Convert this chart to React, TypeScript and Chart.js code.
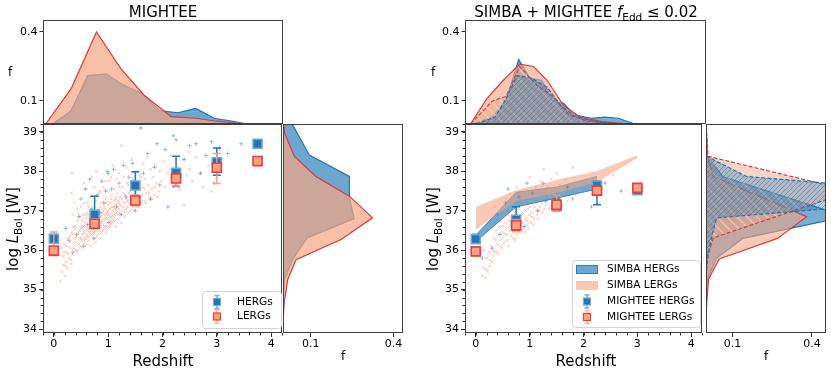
import React, { useEffect, useRef } from 'react';
import { Chart, registerables } from 'chart.js';

Chart.register(...registerables);

const FONT = "'DejaVu Sans', 'Liberation Sans', sans-serif";
Chart.defaults.font.family = FONT;
Chart.defaults.font.size = 11;
Chart.defaults.color = '#000';

// ---------------- tick labels ----------------
const X_TICKS = [0, 1, 2, 3, 4];
const Y_TICKS = [34, 35, 36, 37, 38, 39];
const F_TICKS = [0.1, 0.4];

// ---------------- MIGHTEE (left figure) ----------------
const BIN_Z = [0, 0.75, 1.5, 2.25, 3, 3.75];
const M_HERG_L = [36.29, 36.9, 37.64, 37.96, 38.23, 38.7];
const M_HERG_LO = [36.18, 36.55, 37.3, 37.62, 37.9, 38.7];
const M_HERG_HI = [36.4, 37.37, 37.99, 38.38, 38.59, 38.7];
const M_LERG_L = [35.99, 36.67, 37.26, 37.82, 38.09, 38.26];
const M_LERG_LO = [35.86, 36.55, 37.12, 37.6, 37.69, 38.26];
const M_LERG_HI = [36.46, 36.8, 37.4, 37.92, 38.45, 38.26];

const M_LERG_PTS = [
  [0.12, 35.22], [0.15, 35.45], [0.18, 35.62], [0.2, 35.35], [0.22, 35.7], [0.25, 35.55], [0.1, 35.9], [0.14, 36.05],
  [0.17, 35.85], [0.2, 36.15], [0.23, 35.95], [0.26, 36.3], [0.28, 35.8], [0.3, 36.05], [0.32, 35.65], [0.33, 36.45],
  [0.35, 35.9], [0.36, 36.2], [0.38, 36.6], [0.4, 36.0], [0.41, 36.35], [0.43, 35.95], [0.44, 36.75], [0.46, 36.15],
  [0.47, 36.5], [0.32, 37.45], [0.38, 37.2], [0.35, 36.9], [0.42, 37.05], [0.33, 37.95],
  [0.5, 36.3], [0.51, 36.6], [0.52, 36.05], [0.53, 36.9], [0.55, 36.45], [0.56, 37.2], [0.57, 36.25], [0.58, 36.7],
  [0.6, 36.4], [0.6, 37.55], [0.61, 36.95], [0.62, 36.15], [0.63, 36.55], [0.64, 37.1], [0.65, 36.35], [0.66, 36.8],
  [0.67, 37.35], [0.68, 36.5], [0.69, 36.1], [0.7, 36.65], [0.71, 37.0], [0.72, 36.3], [0.73, 36.85], [0.74, 37.6],
  [0.75, 36.45], [0.76, 36.95], [0.77, 36.2], [0.78, 37.25], [0.79, 36.6], [0.8, 36.75], [0.55, 37.7], [0.7, 37.85],
  [0.78, 38.0],
  [0.81, 36.4], [0.82, 37.05], [0.83, 36.55], [0.84, 37.45], [0.85, 36.85], [0.86, 36.3], [0.87, 36.7], [0.88, 37.2],
  [0.89, 36.95], [0.9, 36.5], [0.91, 37.6], [0.92, 36.8], [0.93, 37.1], [0.94, 36.6], [0.95, 37.3], [0.96, 36.45],
  [0.97, 36.9], [0.98, 37.5], [0.99, 36.7], [1.0, 37.0], [1.01, 36.55], [1.02, 37.75], [1.03, 36.85], [1.04, 37.2],
  [1.05, 36.65], [1.06, 37.4], [1.07, 36.95], [1.08, 38.15], [1.09, 36.75], [1.1, 37.1], [1.11, 37.55], [1.12, 36.9],
  [1.13, 37.3], [1.14, 36.6], [1.15, 37.8], [1.16, 37.0], [1.17, 37.45], [1.18, 36.8], [1.19, 37.2], [1.2, 37.95],
  [1.21, 36.95], [1.22, 37.35], [1.24, 36.7], [1.25, 38.65], [1.26, 37.6], [1.27, 37.1], [1.29, 37.85], [1.3, 36.85],
  [1.31, 37.4], [1.33, 37.05], [1.34, 38.1], [1.35, 37.25], [1.37, 37.65], [1.38, 36.95], [1.4, 37.5], [1.41, 37.15],
  [1.43, 38.3], [1.44, 37.35], [1.46, 37.8], [1.47, 37.0], [1.49, 37.55], [1.5, 37.2], [1.52, 38.0], [1.53, 37.4],
  [1.55, 37.7], [1.57, 37.1], [1.58, 37.9], [1.6, 37.35],
  [1.62, 37.6], [1.64, 38.2], [1.66, 37.25], [1.68, 37.8], [1.7, 37.45], [1.72, 38.35], [1.74, 37.65], [1.76, 37.3],
  [1.78, 38.05], [1.8, 37.55], [1.82, 37.85], [1.85, 37.4], [1.87, 38.15], [1.9, 37.7], [1.93, 37.5], [1.95, 38.0],
  [1.98, 37.75],
  [2.02, 38.25], [2.05, 37.6], [2.1, 37.95], [2.15, 38.4], [2.2, 37.7], [2.27, 38.1], [2.32, 37.55], [2.38, 38.3],
  [2.45, 37.9], [2.4, 37.15], [2.5, 38.05], [2.55, 37.75], [2.62, 38.35], [2.7, 37.95], [2.75, 37.6], [2.85, 38.15],
  [2.9, 37.5], [3.0, 37.85], [3.1, 38.3], [3.05, 38.55], [2.48, 38.5],
  [0.3, 36.2], [0.31, 35.75], [0.34, 36.4], [0.37, 36.05], [0.39, 36.3], [0.4, 36.55], [0.42, 36.2], [0.44, 36.0],
  [0.45, 36.45], [0.47, 36.3], [0.48, 36.85], [0.49, 36.1], [0.5, 36.55], [0.51, 36.25], [0.52, 36.75], [0.53, 36.4],
  [0.54, 36.6], [0.55, 36.15], [0.56, 36.5], [0.57, 36.9], [0.58, 36.3], [0.59, 36.6], [0.6, 36.8], [0.61, 36.35],
  [0.62, 36.5], [0.63, 36.9], [0.64, 36.25], [0.65, 36.6], [0.66, 36.45], [0.67, 36.7], [0.68, 36.95], [0.69, 36.4],
  [0.7, 36.8], [0.71, 36.55], [0.72, 36.7], [0.73, 36.45], [0.74, 36.9], [0.75, 36.6], [0.76, 36.75], [0.77, 36.5],
  [0.78, 36.85], [0.79, 36.35], [0.8, 37.0], [0.81, 36.65], [0.82, 36.8], [0.83, 36.5], [0.84, 36.95], [0.85, 36.6],
  [0.86, 37.1], [0.87, 36.85], [0.88, 36.45], [0.89, 36.75], [0.9, 37.0], [0.91, 36.65], [0.92, 36.9], [0.93, 36.55],
  [0.94, 37.05], [0.95, 36.8], [0.96, 37.2], [0.97, 36.6], [0.98, 36.95], [0.99, 36.8], [1.0, 37.15], [1.01, 36.9],
  [1.02, 36.6], [1.03, 37.05], [1.04, 36.75], [1.05, 37.3], [1.06, 36.85], [1.07, 37.1], [1.08, 36.7], [1.09, 37.0],
  [1.1, 36.85], [1.11, 37.25], [1.12, 37.05], [1.13, 36.75], [1.14, 37.15], [1.15, 36.95], [1.16, 37.35], [1.17, 37.1],
  [1.18, 36.9], [1.19, 37.25], [1.2, 37.05], [1.22, 37.15], [1.23, 36.9], [1.25, 37.3], [1.27, 37.0], [1.28, 37.45],
  [1.3, 37.2], [1.32, 36.95], [1.34, 37.3], [1.36, 37.1], [1.38, 37.45], [1.4, 37.25], [1.42, 37.0], [1.45, 37.4],
  [1.48, 37.2], [1.5, 37.5], [1.52, 37.1], [1.55, 37.35], [1.58, 37.55], [1.6, 37.2], [1.63, 37.4], [1.67, 37.55],
  [1.7, 37.2], [1.75, 37.45], [1.8, 37.3], [1.85, 37.6], [1.9, 37.35], [0.18, 35.95], [0.21, 35.6], [0.24, 36.1],
  [0.27, 35.9], [0.29, 36.35], [0.36, 36.6], [0.45, 36.95], [0.5, 37.1], [0.62, 37.2], [0.7, 37.4], [0.85, 37.5],
  [0.95, 37.75], [1.05, 37.85], [1.2, 37.6], [1.35, 37.7], [1.45, 37.95], [1.6, 37.85],
];

const M_HERG_PTS = [
  [0.22, 36.55], [0.28, 36.25], [0.35, 35.95], [0.42, 36.4], [0.46, 36.85], [0.5, 37.3], [0.55, 36.1], [0.58, 37.55],
  [0.62, 36.65], [0.66, 37.8], [0.7, 37.05], [0.74, 36.3], [0.8, 37.4], [0.85, 36.95], [0.88, 37.75], [0.92, 37.2],
  [0.98, 38.0], [1.02, 36.7], [1.06, 37.55], [1.1, 38.05], [1.15, 37.1], [1.2, 37.7], [1.24, 36.9], [1.28, 38.15],
  [1.33, 37.35], [1.38, 37.85], [1.45, 38.2], [1.5, 37.0], [1.55, 37.6], [1.6, 39.1], [1.65, 37.95], [1.72, 38.45],
  [1.78, 37.3], [1.85, 38.1], [1.9, 38.7], [1.95, 37.65], [2.05, 38.55], [2.1, 37.1], [2.2, 38.9], [2.25, 38.8],
  [2.3, 37.85], [2.4, 38.3], [2.5, 38.65], [2.62, 38.7], [2.7, 37.95], [2.8, 38.4], [2.9, 38.75], [2.95, 37.7],
  [3.05, 38.6], [3.2, 38.45], [3.45, 38.7], [1.0, 37.95], [0.95, 37.5],
];

// marginal distributions (left figure)
const TOP_HERG_Z = [-0.02, 0.31, 0.62, 0.96, 1.27, 1.63, 1.94, 2.27, 2.6, 2.94, 3.28, 3.55, 4.3];
const TOP_HERG_F = [0, 0.057, 0.21, 0.217, 0.17, 0.129, 0.058, 0.049, 0.068, 0.025, 0.012, 0, 0];
const TOP_LERG_Z = [-0.15, 0.32, 0.78, 1.23, 1.65, 2.15, 2.6, 2.95, 3.5, 4.3];
const TOP_LERG_F = [0, 0.155, 0.4, 0.24, 0.126, 0.032, 0.025, 0.013, 0, 0];

const SIDE_HERG_L = [39.5, 38.41, 37.87, 37.34, 36.8, 36.31, 35.76, 35.25, 34.7];
const SIDE_HERG_F = [0.01, 0.095, 0.24, 0.24, 0.257, 0.087, 0.035, 0.005, 0];
const SIDE_LERG_L = [39.4, 38.98, 38.38, 37.87, 37.37, 36.82, 36.27, 35.76, 35.25, 34.7, 34.2];
const SIDE_LERG_F = [0, 0.005, 0.041, 0.119, 0.24, 0.324, 0.21, 0.047, 0.017, 0.005, 0];

// ---------------- SIMBA + MIGHTEE (right figure) ----------------
const S_BIN_Z = [0, 0.75, 1.5, 2.25, 3];
const S_HERG_L = [36.28, 36.77, 37.12, 37.64, 37.52];
const S_HERG_LO = [36.18, 36.5, 37.0, 37.15, 37.45];
const S_HERG_HI = [36.4, 37.1, 37.3, 37.75, 37.6];
const S_LERG_L = [35.97, 36.63, 37.15, 37.51, 37.58];
const S_LERG_LO = [35.86, 36.47, 36.98, 37.42, 37.5];
const S_LERG_HI = [36.08, 36.78, 37.4, 37.6, 37.66];

const SIMBA_LERG_Z = [0, 0.75, 1.5, 2.25, 3];
const SIMBA_LERG_TOP = [37.1, 37.52, 37.78, 38.01, 38.41];
const SIMBA_LERG_BOT = [36.52, 37.25, 37.45, 37.72, 38.34];
const SIMBA_HERG_Z = [0, 0.75, 1.5, 2.25];
const SIMBA_HERG_TOP = [36.38, 37.47, 37.6, 37.87];
const SIMBA_HERG_BOT = [36.22, 37.1, 37.32, 37.55];

const S_LERG_PTS = [
  [0.12, 35.35], [0.15, 35.55], [0.18, 35.3], [0.2, 35.8], [0.22, 35.45], [0.25, 35.95], [0.27, 35.75], [0.3, 36.1],
  [0.32, 35.85], [0.34, 36.3], [0.36, 35.95], [0.38, 36.5], [0.4, 36.15], [0.42, 35.9], [0.44, 36.6], [0.45, 36.25],
  [0.47, 36.8], [0.48, 36.05], [0.5, 36.45], [0.52, 37.0], [0.53, 36.2], [0.55, 36.7], [0.56, 37.3], [0.58, 36.4],
  [0.6, 36.9], [0.61, 36.1], [0.63, 36.6], [0.64, 37.45], [0.66, 36.35], [0.67, 36.8], [0.69, 37.15], [0.7, 36.5],
  [0.72, 36.95], [0.73, 36.25], [0.75, 36.7], [0.76, 37.6], [0.78, 36.4], [0.79, 37.05], [0.81, 36.6], [0.82, 36.85],
  [0.84, 37.3], [0.85, 36.5], [0.87, 36.95], [0.88, 36.7], [0.9, 37.2], [0.91, 36.45], [0.93, 36.8], [0.94, 37.5],
  [0.96, 36.65], [0.97, 37.05], [0.99, 36.9], [1.0, 37.85], [1.02, 36.7], [1.03, 37.25], [1.05, 36.95], [1.07, 37.4],
  [1.08, 36.8], [1.1, 37.1], [1.12, 37.6], [1.14, 36.9], [1.16, 37.3], [1.18, 37.0], [1.2, 37.75], [1.22, 37.2],
  [1.24, 36.95], [1.26, 38.05], [1.28, 37.45], [1.3, 37.15], [1.33, 37.6], [1.35, 37.05], [1.38, 37.35], [1.4, 37.8],
  [1.43, 37.2], [1.45, 37.5], [1.48, 37.0], [1.5, 37.95], [1.53, 37.3], [1.56, 37.65], [1.6, 37.15], [1.63, 37.45],
  [1.67, 37.8], [1.7, 37.25], [1.75, 37.55], [1.8, 38.1], [1.85, 37.4], [0.35, 37.1], [0.25, 36.6], [0.15, 36.0],
  [2.55, 37.9],
  [0.3, 35.7], [0.33, 36.0], [0.37, 36.25], [0.4, 35.95], [0.43, 36.4], [0.46, 36.1], [0.49, 36.3], [0.51, 36.6],
  [0.54, 36.4], [0.57, 36.55], [0.59, 36.25], [0.62, 36.75], [0.65, 36.5], [0.68, 36.65], [0.71, 36.3], [0.74, 36.85],
  [0.77, 36.55], [0.8, 36.75], [0.83, 36.45], [0.86, 36.9], [0.89, 36.6], [0.92, 37.0], [0.95, 36.75], [0.98, 36.55],
  [1.01, 37.1], [1.04, 36.85], [1.07, 36.65], [1.1, 37.2], [1.13, 37.0], [1.16, 36.8], [1.19, 37.1], [1.23, 37.35],
  [1.27, 37.05], [1.31, 37.25], [1.36, 37.4], [1.41, 37.1], [1.46, 37.3], [1.52, 37.15], [1.58, 37.35], [0.26, 35.6],
  [0.2, 35.5], [0.55, 36.9], [0.7, 37.05], [0.9, 37.3], [1.0, 37.4], [1.15, 37.5], [1.3, 37.5],
];
const S_HERG_PTS = [
  [0.12, 35.8], [0.3, 36.05], [0.45, 36.4], [0.55, 37.2], [0.6, 37.55], [0.72, 36.85], [0.8, 37.35], [0.9, 36.6],
  [0.95, 37.7], [1.05, 37.45], [1.15, 37.0], [1.3, 37.25], [1.5, 37.4], [1.7, 37.6], [1.8, 37.3], [2.15, 37.1],
  [2.4, 37.7], [2.7, 37.5], [0.4, 36.9], [1.25, 37.7],
];

// top marginal (right figure): f vs redshift
const RT_MHERG_Z = [-0.05, 0.3, 0.55, 0.78, 0.98, 1.2, 1.4, 1.6, 1.8, 2.1, 2.35, 2.6, 2.9];
const RT_MHERG_F = [0, 0.03, 0.1, 0.28, 0.2, 0.19, 0.1, 0.09, 0.04, 0.025, 0.03, 0.025, 0];
const RT_MLERG_Z = [-0.1, 0.2, 0.5, 0.8, 1.05, 1.3, 1.6, 1.9, 2.3, 2.8];
const RT_MLERG_F = [0, 0.11, 0.19, 0.26, 0.25, 0.19, 0.08, 0.03, 0.01, 0];
const RT_SHERG_Z = [0, 0.35, 0.55, 0.75, 1.0, 1.3, 1.55, 1.8, 2.2, 2.6];
const RT_SHERG_F = [0, 0.03, 0.11, 0.21, 0.2, 0.16, 0.08, 0.035, 0.01, 0];
const RT_SLERG_Z = [-0.1, 0.3, 0.55, 0.8, 1.1, 1.4, 1.7, 2.0, 2.5];
const RT_SLERG_F = [0, 0.1, 0.12, 0.25, 0.17, 0.12, 0.04, 0.015, 0];

// side marginal (right figure): f vs log L
const RR_MHERG_L = [39.3, 38.4, 37.87, 37.37, 36.85, 36.3, 35.8, 35.25, 34.7];
const RR_MHERG_F = [0, 0.005, 0.063, 0.29, 0.53, 0.14, 0.04, 0.005, 0];
const RR_MLERG_L = [39.2, 38.4, 37.87, 37.37, 36.85, 36.3, 35.78, 35.27, 34.7, 34.2];
const RR_MLERG_F = [0, 0.005, 0.027, 0.2, 0.38, 0.27, 0.05, 0.01, 0.003, 0];
const RR_SHERG_L = [39.3, 38.38, 37.87, 37.45, 37.1, 36.82, 36.3, 35.8, 35.3];
const RR_SHERG_F = [0, 0.002, 0.153, 0.9, 0.55, 0.04, 0.02, 0.005, 0];
const RR_SLERG_L = [39.3, 38.9, 38.38, 37.5, 36.31, 35.9, 35.4];
const RR_SLERG_F = [0, 0.003, 0.008, 0.55, 0.027, 0.008, 0];

// ---------------- styling ----------------
const BLUE = '#1f77b4';
const RED = '#e0383e';
const SALMON = '#f4a582';
const BLUE_FILL = 'rgba(31,119,180,0.65)';
const SALMON_FILL = 'rgba(244,165,130,0.7)';

const xy = (xs: number[], ys: number[]) => xs.map((x, i) => ({ x, y: ys[i] }));
const fy = (ls: number[], fs: number[]) => ls.map((l, i) => ({ x: fs[i], y: l }));
const pts = (a: number[][]) => a.map((p) => ({ x: p[0], y: p[1] }));

function hatch(base: string, line: string, dir: number, size: number, lw: number): any {
  const c = document.createElement('canvas');
  c.width = size;
  c.height = size;
  const g = c.getContext('2d');
  if (!g) return base;
  g.fillStyle = base;
  g.fillRect(0, 0, size, size);
  g.strokeStyle = line;
  g.lineWidth = lw;
  g.beginPath();
  for (const o of [-size, 0, size]) {
    if (dir > 0) {
      g.moveTo(o, size);
      g.lineTo(o + size, 0);
    } else {
      g.moveTo(o, 0);
      g.lineTo(o + size, size);
    }
  }
  g.stroke();
  return g.createPattern(c, 'repeat') || base;
}

// ---------------- plugins ----------------
const errorBarPlugin = {
  id: 'errbars',
  beforeDatasetDraw(chart: any, args: any) {
    const ds: any = chart.data.datasets[args.index];
    if (!ds || !ds.errLo) return;
    const xs = chart.scales.x;
    const ys = chart.scales.y;
    const ctx = chart.ctx;
    ctx.save();
    ctx.strokeStyle = ds.errColor;
    ctx.lineWidth = 1.5;
    ds.data.forEach((p: any, i: number) => {
      const lo = ds.errLo[i];
      const hi = ds.errHi[i];
      if (hi - lo < 1e-6) return;
      const x = xs.getPixelForValue(p.x);
      const y1 = ys.getPixelForValue(lo);
      const y2 = ys.getPixelForValue(hi);
      ctx.beginPath();
      ctx.moveTo(x, y1);
      ctx.lineTo(x, y2);
      ctx.moveTo(x - 4, y1);
      ctx.lineTo(x + 4, y1);
      ctx.moveTo(x - 4, y2);
      ctx.lineTo(x + 4, y2);
      ctx.stroke();
    });
    ctx.restore();
  },
};
Chart.register(errorBarPlugin as any);

function framePlugin() {
  return {
    id: 'frame',
    afterDatasetsDraw(chart: any) {
      const { left, top, right, bottom } = chart.chartArea;
      const ctx = chart.ctx;
      ctx.save();
      ctx.strokeStyle = '#404040';
      ctx.lineWidth = 1;
      ctx.strokeRect(Math.round(left) + 0.5, Math.round(top) + 0.5, Math.round(right - left) - 1, Math.round(bottom - top) - 1);
      ctx.restore();
    },
  };
}

function minorTicksPlugin(xStep: number, yStep: number) {
  return {
    id: 'minorTicks',
    afterDraw(chart: any) {
      const ctx = chart.ctx;
      const { left, bottom } = chart.chartArea;
      ctx.save();
      ctx.strokeStyle = '#333';
      ctx.lineWidth = 1;
      ctx.beginPath();
      if (xStep) {
        const s = chart.scales.x;
        for (let k = Math.ceil(s.min / xStep); k * xStep <= s.max + 1e-9; k++) {
          const p = Math.round(s.getPixelForValue(k * xStep)) + 0.5;
          ctx.moveTo(p, bottom);
          ctx.lineTo(p, bottom + 2.5);
        }
      }
      if (yStep) {
        const s = chart.scales.y;
        for (let k = Math.ceil(s.min / yStep); k * yStep <= s.max + 1e-9; k++) {
          const p = Math.round(s.getPixelForValue(k * yStep)) + 0.5;
          ctx.moveTo(left, p);
          ctx.lineTo(left - 2.5, p);
        }
      }
      ctx.stroke();
      ctx.restore();
    },
  };
}

type Part = { t: string; it?: boolean; sub?: boolean };
type TextItem = { x: number; y: number; size: number; parts: Part[]; rot?: boolean };

function textPlugin(items: TextItem[], ox: number, oy: number) {
  return {
    id: 'richText',
    afterDraw(chart: any) {
      const ctx = chart.ctx;
      for (const it of items) {
        ctx.save();
        ctx.translate(it.x - ox, it.y - oy);
        if (it.rot) ctx.rotate(-Math.PI / 2);
        ctx.fillStyle = '#000';
        ctx.textBaseline = 'alphabetic';
        ctx.textAlign = 'left';
        const fontOf = (p: Part) => `${p.it ? 'italic ' : ''}${p.sub ? it.size * 0.7 : it.size}px ${FONT}`;
        let w = 0;
        for (const p of it.parts) {
          ctx.font = fontOf(p);
          w += ctx.measureText(p.t).width;
        }
        let x = -w / 2;
        for (const p of it.parts) {
          ctx.font = fontOf(p);
          ctx.fillText(p.t, x, p.sub ? it.size * 0.28 : 0);
          x += ctx.measureText(p.t).width;
        }
        ctx.restore();
      }
    },
  };
}

type LegItem = { kind: 'patch' | 'sq'; fill: string; edge: string; err?: string; label: string; y: number };

function legendPlugin(box: { x: number; y: number; w: number; h: number }, mx: number, tx: number, items: LegItem[], ox: number, oy: number) {
  return {
    id: 'customLegend',
    afterDraw(chart: any) {
      const ctx = chart.ctx;
      ctx.save();
      ctx.translate(-ox, -oy);
      ctx.beginPath();
      if ((ctx as any).roundRect) (ctx as any).roundRect(box.x + 0.5, box.y + 0.5, box.w, box.h, 3);
      else ctx.rect(box.x + 0.5, box.y + 0.5, box.w, box.h);
      ctx.fillStyle = 'rgba(255,255,255,0.85)';
      ctx.fill();
      ctx.strokeStyle = '#d4d4d4';
      ctx.lineWidth = 1;
      ctx.stroke();
      for (const it of items) {
        if (it.kind === 'patch') {
          ctx.fillStyle = it.fill;
          ctx.fillRect(mx - 11, it.y - 4.5, 22, 9);
          ctx.strokeStyle = it.edge;
          ctx.strokeRect(mx - 10.5, it.y - 4, 21, 8);
        } else {
          ctx.strokeStyle = it.err || it.edge;
          ctx.lineWidth = 1.5;
          ctx.beginPath();
          ctx.moveTo(mx, it.y - 6.5);
          ctx.lineTo(mx, it.y + 6.5);
          ctx.moveTo(mx - 2.5, it.y - 6.5);
          ctx.lineTo(mx + 2.5, it.y - 6.5);
          ctx.moveTo(mx - 2.5, it.y + 6.5);
          ctx.lineTo(mx + 2.5, it.y + 6.5);
          ctx.stroke();
          ctx.fillStyle = it.fill;
          ctx.fillRect(mx - 3.5, it.y - 3.5, 7, 7);
          ctx.strokeStyle = it.edge;
          ctx.lineWidth = 1.2;
          ctx.strokeRect(mx - 3.5, it.y - 3.5, 7, 7);
        }
        ctx.fillStyle = '#000';
        ctx.font = `10.6px ${FONT}`;
        ctx.textBaseline = 'middle';
        ctx.textAlign = 'left';
        ctx.fillText(it.label, tx, it.y);
      }
      ctx.restore();
    },
  };
}

// ---------------- scales ----------------
const tickGrid = (len: number) => ({ drawOnChartArea: false, drawTicks: true, tickLength: len, color: '#333', tickWidth: 1 });

function zScale(show: boolean, h = 40) {
  return {
    type: 'linear',
    display: show,
    min: -0.2,
    max: 4.2,
    afterBuildTicks: (s: any) => { s.ticks = X_TICKS.map((v) => ({ value: v })); },
    afterFit: (s: any) => { s.height = h; s.paddingLeft = 0; s.paddingRight = 0; },
    ticks: { font: { size: 11 }, color: '#000', padding: 1, maxRotation: 0, autoSkip: false, callback: (v: any) => String(v) },
    grid: tickGrid(4),
    border: { display: false },
  };
}
function lScale(show: boolean, w: number) {
  return {
    type: 'linear',
    display: show,
    min: 33.9,
    max: 39.2,
    afterBuildTicks: (s: any) => { s.ticks = Y_TICKS.map((v) => ({ value: v })); },
    afterFit: (s: any) => { s.width = w; s.paddingTop = 0; s.paddingBottom = 0; },
    ticks: { font: { size: 11 }, color: '#000', padding: 2, autoSkip: false, callback: (v: any) => String(v) },
    grid: tickGrid(4),
    border: { display: false },
  };
}
function fScaleY(w: number) {
  return {
    type: 'linear',
    min: 0,
    max: 0.452,
    afterBuildTicks: (s: any) => { s.ticks = F_TICKS.map((v) => ({ value: v })); },
    afterFit: (s: any) => { s.width = w; s.paddingTop = 0; s.paddingBottom = 0; },
    ticks: { font: { size: 11 }, color: '#000', padding: 2, autoSkip: false, callback: (v: any) => Number(v).toFixed(1) },
    grid: tickGrid(3.5),
    border: { display: false },
  };
}
function fScaleX(max: number) {
  return {
    type: 'linear',
    min: 0,
    max,
    afterBuildTicks: (s: any) => { s.ticks = F_TICKS.map((v) => ({ value: v })); },
    afterFit: (s: any) => { s.height = 40; s.paddingLeft = 0; s.paddingRight = 0; },
    ticks: { font: { size: 11 }, color: '#000', padding: 1, maxRotation: 0, autoSkip: false, callback: (v: any) => Number(v).toFixed(1) },
    grid: tickGrid(4),
    border: { display: false },
  };
}

function baseOptions(pad: any, scales: any, extra: any = {}) {
  return {
    responsive: false,
    animation: false,
    events: [],
    layout: { padding: pad },
    plugins: { legend: { display: false }, tooltip: { enabled: false }, title: { display: false } },
    scales,
    ...extra,
  };
}

const lineDs = (data: any, border: string, fill: any, order: number, dash: number[] = []) => ({
  data,
  borderColor: border,
  borderWidth: 1.2,
  borderDash: dash,
  backgroundColor: fill,
  fill: 'origin',
  pointRadius: 0,
  tension: 0,
  order,
});

function binDatasets(z: number[], hL: number[], hLo: number[], hHi: number[], lL: number[], lLo: number[], lHi: number[]) {
  return [
    {
      data: xy(z, lL), showLine: false, pointStyle: 'rect', pointRadius: 6.4,
      backgroundColor: SALMON, borderColor: '#ee3b3f', borderWidth: 1.6, order: 0,
      errLo: lLo, errHi: lHi, errColor: 'rgba(242,160,128,0.95)',
    },
    {
      data: xy(z, hL), showLine: false, pointStyle: 'rect', pointRadius: 6.4,
      backgroundColor: BLUE, borderColor: 'rgba(110,170,215,0.95)', borderWidth: 1.6, order: 1,
      errLo: hLo, errHi: hHi, errColor: BLUE,
    },
  ];
}
function scatterDatasets(herg: number[][], lerg: number[][]) {
  return [
    { data: pts(herg), showLine: false, pointStyle: 'cross', pointRadius: 2.1, borderWidth: 1, borderColor: 'rgba(31,119,180,0.42)', backgroundColor: 'transparent', order: 2 },
    { data: pts(lerg), showLine: false, pointStyle: 'crossRot', pointRadius: 2.2, borderWidth: 1, borderColor: 'rgba(240,145,110,0.4)', backgroundColor: 'transparent', order: 3 },
  ];
}

// ---------------- chart makers ----------------
function makeTL(ox: number, oy: number) {
  return {
    type: 'line',
    data: {
      datasets: [
        lineDs(xy(TOP_HERG_Z, TOP_HERG_F), BLUE, BLUE_FILL, 1),
        lineDs(xy(TOP_LERG_Z, TOP_LERG_F), RED, SALMON_FILL, 0),
      ],
    },
    options: baseOptions({ left: 0, top: 20, right: 7, bottom: 6 }, { x: zScale(false, 0), y: fScaleY(43) }),
    plugins: [framePlugin(), textPlugin([
      { x: 163, y: 17, size: 15, parts: [{ t: 'MIGHTEE' }] },
      { x: 10, y: 76, size: 12, parts: [{ t: 'f' }] },
    ], ox, oy)],
  };
}

function makeLM(ox: number, oy: number) {
  return {
    type: 'line',
    data: {
      datasets: [
        ...binDatasets(BIN_Z, M_HERG_L, M_HERG_LO, M_HERG_HI, M_LERG_L, M_LERG_LO, M_LERG_HI),
        ...scatterDatasets(M_HERG_PTS, M_LERG_PTS),
      ],
    },
    options: baseOptions({ left: 0, top: 14, right: 7, bottom: 0 }, { x: zScale(true), y: lScale(true, 43) }),
    plugins: [
      framePlugin(),
      minorTicksPlugin(0.2, 0.2),
      textPlugin([
        { x: 163, y: 366, size: 15, parts: [{ t: 'Redshift' }] },
        { x: 18, y: 229, size: 15, rot: true, parts: [{ t: 'log ' }, { t: 'L', it: true }, { t: 'Bol', sub: true }, { t: ' [W]' }] },
      ], ox, oy),
      legendPlugin({ x: 202, y: 291, w: 79, h: 37 }, 217, 237, [
        { kind: 'sq', fill: BLUE, edge: 'rgba(110,170,215,0.95)', err: 'rgba(110,170,215,0.95)', label: 'HERGs', y: 302 },
        { kind: 'sq', fill: SALMON, edge: '#ee3b3f', err: 'rgba(242,160,128,0.8)', label: 'LERGs', y: 316.5 },
      ], ox, oy),
    ],
  };
}

function makeLR(ox: number, oy: number) {
  return {
    type: 'line',
    data: {
      datasets: [
        lineDs(fy(SIDE_HERG_L, SIDE_HERG_F), BLUE, BLUE_FILL, 1),
        lineDs(fy(SIDE_LERG_L, SIDE_LERG_F), RED, SALMON_FILL, 0),
      ],
    },
    options: baseOptions({ left: 7, top: 14, right: 17, bottom: 0 }, { x: fScaleX(0.434), y: lScale(false, 0) }, { indexAxis: 'y' }),
    plugins: [framePlugin(), textPlugin([{ x: 343, y: 360, size: 12, parts: [{ t: 'f' }] }], ox, oy)],
  };
}

function hatches() {
  return {
    hB: hatch('rgba(31,119,180,0.3)', 'rgba(31,119,180,0.75)', 1, 5, 0.7),
    hS: hatch('rgba(230,160,135,0.45)', 'rgba(255,225,210,0.55)', -1, 10, 1.3),
  };
}

function makeRT(ox: number, oy: number) {
  const { hB, hS } = hatches();
  return {
    type: 'line',
    data: {
      datasets: [
        lineDs(xy(RT_MHERG_Z, RT_MHERG_F), BLUE, 'rgba(31,119,180,0.6)', 3),
        lineDs(xy(RT_MLERG_Z, RT_MLERG_F), RED, 'rgba(244,165,130,0.6)', 2),
        lineDs(xy(RT_SHERG_Z, RT_SHERG_F), BLUE, hB, 0, [4, 2]),
        lineDs(xy(RT_SLERG_Z, RT_SLERG_F), RED, hS, 1, [4, 2]),
      ],
    },
    options: baseOptions({ left: 0, top: 20, right: 4, bottom: 6 }, { x: zScale(false, 0), y: fScaleY(45) }),
    plugins: [framePlugin(), textPlugin([
      { x: 586, y: 17, size: 15, parts: [{ t: 'SIMBA + MIGHTEE ' }, { t: 'f', it: true }, { t: 'Edd', sub: true }, { t: ' \u2264 0.02' }] },
      { x: 433, y: 76, size: 12, parts: [{ t: 'f' }] },
    ], ox, oy)],
  };
}

function makeRM(ox: number, oy: number) {
  return {
    type: 'line',
    data: {
      datasets: [
        ...binDatasets(S_BIN_Z, S_HERG_L, S_HERG_LO, S_HERG_HI, S_LERG_L, S_LERG_LO, S_LERG_HI),
        ...scatterDatasets(S_HERG_PTS, S_LERG_PTS),
        { data: xy(SIMBA_LERG_Z, SIMBA_LERG_TOP), fill: '+1', backgroundColor: 'rgba(244,165,130,0.6)', borderWidth: 0, borderColor: 'rgba(0,0,0,0)', pointRadius: 0, order: 4 },
        { data: xy(SIMBA_LERG_Z, SIMBA_LERG_BOT), fill: false, borderWidth: 0, borderColor: 'rgba(0,0,0,0)', pointRadius: 0, order: 4 },
        { data: xy(SIMBA_HERG_Z, SIMBA_HERG_TOP), fill: '+1', backgroundColor: 'rgba(31,119,180,0.65)', borderWidth: 1, borderColor: 'rgba(31,119,180,0.8)', pointRadius: 0, order: 5 },
        { data: xy(SIMBA_HERG_Z, SIMBA_HERG_BOT), fill: false, borderWidth: 1, borderColor: 'rgba(31,119,180,0.8)', pointRadius: 0, order: 5 },
      ],
    },
    options: baseOptions({ left: 0, top: 14, right: 4, bottom: 0 }, { x: zScale(true), y: lScale(true, 45) }),
    plugins: [
      framePlugin(),
      minorTicksPlugin(0.2, 0.2),
      textPlugin([
        { x: 586, y: 366, size: 15, parts: [{ t: 'Redshift' }] },
        { x: 438, y: 229, size: 15, rot: true, parts: [{ t: 'log ' }, { t: 'L', it: true }, { t: 'Bol', sub: true }, { t: ' [W]' }] },
      ], ox, oy),
      legendPlugin({ x: 572, y: 260, w: 128, h: 67 }, 587, 607, [
        { kind: 'patch', fill: 'rgba(31,119,180,0.65)', edge: 'rgba(31,119,180,0.8)', label: 'SIMBA HERGs', y: 269.5 },
        { kind: 'patch', fill: 'rgba(244,165,130,0.6)', edge: 'rgba(244,165,130,0.0)', label: 'SIMBA LERGs', y: 285.5 },
        { kind: 'sq', fill: BLUE, edge: 'rgba(110,170,215,0.95)', err: 'rgba(110,170,215,0.95)', label: 'MIGHTEE HERGs', y: 301.5 },
        { kind: 'sq', fill: SALMON, edge: '#ee3b3f', err: 'rgba(242,160,128,0.8)', label: 'MIGHTEE LERGs', y: 317 },
      ], ox, oy),
    ],
  };
}

function makeRR(ox: number, oy: number) {
  const { hB, hS } = hatches();
  return {
    type: 'line',
    data: {
      datasets: [
        lineDs(fy(RR_MHERG_L, RR_MHERG_F), BLUE, 'rgba(31,119,180,0.6)', 3),
        lineDs(fy(RR_MLERG_L, RR_MLERG_F), RED, 'rgba(244,165,130,0.6)', 2),
        lineDs(fy(RR_SHERG_L, RR_SHERG_F), BLUE, hB, 0, [4, 2]),
        lineDs(fy(RR_SLERG_L, RR_SLERG_F), RED, hS, 1, [4, 2]),
      ],
    },
    options: baseOptions({ left: 6, top: 14, right: 5, bottom: 0 }, { x: fScaleX(0.453), y: lScale(false, 0) }, { indexAxis: 'y' }),
    plugins: [framePlugin(), textPlugin([{ x: 766, y: 360, size: 12, parts: [{ t: 'f' }] }], ox, oy)],
  };
}

function Panel({ x, y, w, h, make }: { x: number; y: number; w: number; h: number; make: (ox: number, oy: number) => any }) {
  const ref = useRef<HTMLCanvasElement>(null);
  useEffect(() => {
    if (!ref.current) return;
    const chart = new Chart(ref.current, make(x, y));
    return () => chart.destroy();
  }, []);
  return <canvas ref={ref} width={w} height={h} style={{ position: 'absolute', left: x, top: y, width: w, height: h }} />;
}

export default function App() {
  return (
    <div style={{ position: 'fixed', left: 0, top: 0, width: 831, height: 373, background: '#fff', overflow: 'hidden' }}>
      <Panel x={0} y={0} w={290} h={130} make={makeTL} />
      <Panel x={0} y={110} w={290} h={263} make={makeLM} />
      <Panel x={276} y={110} w={144} h={263} make={makeLR} />
      <Panel x={420} y={0} w={290} h={130} make={makeRT} />
      <Panel x={420} y={110} w={290} h={263} make={makeRM} />
      <Panel x={700} y={110} w={131} h={263} make={makeRR} />
    </div>
  );
}
